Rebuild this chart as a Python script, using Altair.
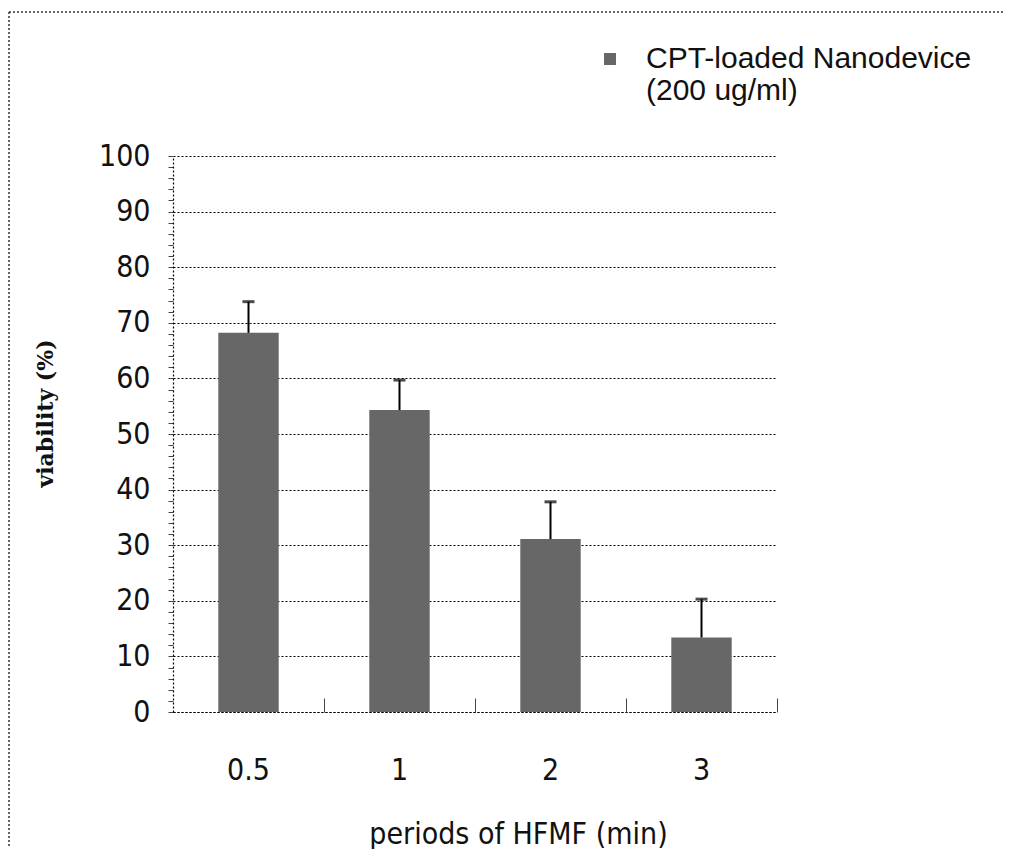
import altair as alt
import pandas as pd

# ---- data ----
periods = ["0.5", "1", "2", "3"]
viability = [68.2, 54.3, 31.1, 13.4]
upper = [73.8, 59.7, 37.8, 20.3]
series = ["CPT-loaded Nanodevice|(200 ug/ml)"] * 4
y_ticks = list(range(0, 101, 2))

df = pd.DataFrame({"period": periods, "viability": viability,
                   "upper": upper, "series": series})
frame_df = pd.DataFrame({"k": [0]})

NARROW = "Liberation Sans Narrow, DejaVu Sans Condensed, sans-serif"
W, H = 604, 556
STEP = W / len(periods)

x_scale = alt.Scale(paddingInner=0.6, paddingOuter=0.3)
y_scale = alt.Scale(domain=[0, 100], nice=False)

bars = alt.Chart(df).mark_bar().encode(
    x=alt.X("period:N", sort=periods, scale=x_scale,
            axis=alt.Axis(orient="bottom", title="periods of HFMF (min)", labelAngle=0,
                          ticks=False, grid=False, domainColor="#000", domainDash=[2, 2],
                          domainWidth=1.2,
                          labelFont=NARROW, labelFontSize=30, labelColor="#111",
                          labelPadding=58, labelBaseline="middle",
                          titleFont=NARROW, titleFontSize=30, titleFontWeight="normal",
                          titleColor="#111", titleX=345, titleY=122, titleBaseline="middle")),
    y=alt.Y("viability:Q", scale=y_scale,
            axis=alt.Axis(orient="left", values=y_ticks, tickCount=200, format="d",
                          title="viability (%)",
                          labelExpr="datum.value % 10 === 0 ? datum.label : ''",
                          labelOverlap=False, labelFont=NARROW, labelFontSize=30,
                          labelColor="#111", labelPadding=18,
                          tickSize=5, tickColor="#444",
                          domainColor="#000", domainDash=[2, 2], domainWidth=1.2,
                          gridColor="#000", gridDash=[2, 2], gridWidth=1.2,
                          gridOpacity={"condition": {"test": "datum.value % 10 === 0", "value": 1}, "value": 0},
                          titleFont="DejaVu Serif", titleFontSize=22, titleFontWeight="bold",
                          titleColor="#111", titleX=-128, titleY=257, titleBaseline="middle")),
    color=alt.Color("series:N", scale=alt.Scale(range=["#676767"]),
                    legend=alt.Legend(orient="none", legendX=422, legendY=-112, title=None,
                                      labelExpr="split(datum.label, '|')",
                                      labelFont="Liberation Sans, Arial, sans-serif",
                                      labelFontSize=30, labelColor="#111", labelLimit=600,
                                      symbolType="square", symbolSize=144, symbolStrokeWidth=0,
                                      labelOffset=21, padding=0)),
)

err = alt.Chart(df).mark_rule(color="#000", strokeWidth=2).encode(
    x=alt.X("period:N", sort=periods,
            axis=alt.Axis(orient="top", offset=-H, labels=False, domain=False, grid=False,
                          tickOffset=STEP / 2, tickSize=14, tickColor="#444", tickWidth=1,
                          title=None)),
    y=alt.Y("viability:Q"),
    y2="upper:Q",
)

caps = alt.Chart(df).mark_tick(color="#000", thickness=3, size=12).encode(
    x=alt.X("period:N", sort=periods, axis=None),
    y=alt.Y("upper:Q"),
)

frame_top = alt.Chart(frame_df).mark_rule(color="#333", strokeDash=[2, 2], strokeWidth=1.5).encode(
    x=alt.value(-164), x2=alt.value(830), y=alt.value(-144))
frame_left = alt.Chart(frame_df).mark_rule(color="#333", strokeDash=[2, 2], strokeWidth=1.5).encode(
    x=alt.value(-164), y=alt.value(-144), y2=alt.value(690))

chart = alt.layer(bars, err, caps, frame_top, frame_left).resolve_axis(
    x="independent"
).properties(
    width=W, height=H,
    padding={"left": 0, "top": 3, "right": 0, "bottom": 0},
    background="white",
).configure_view(stroke=None)

chart.save("out.html", embed_options={"renderer": "svg", "actions": False})
